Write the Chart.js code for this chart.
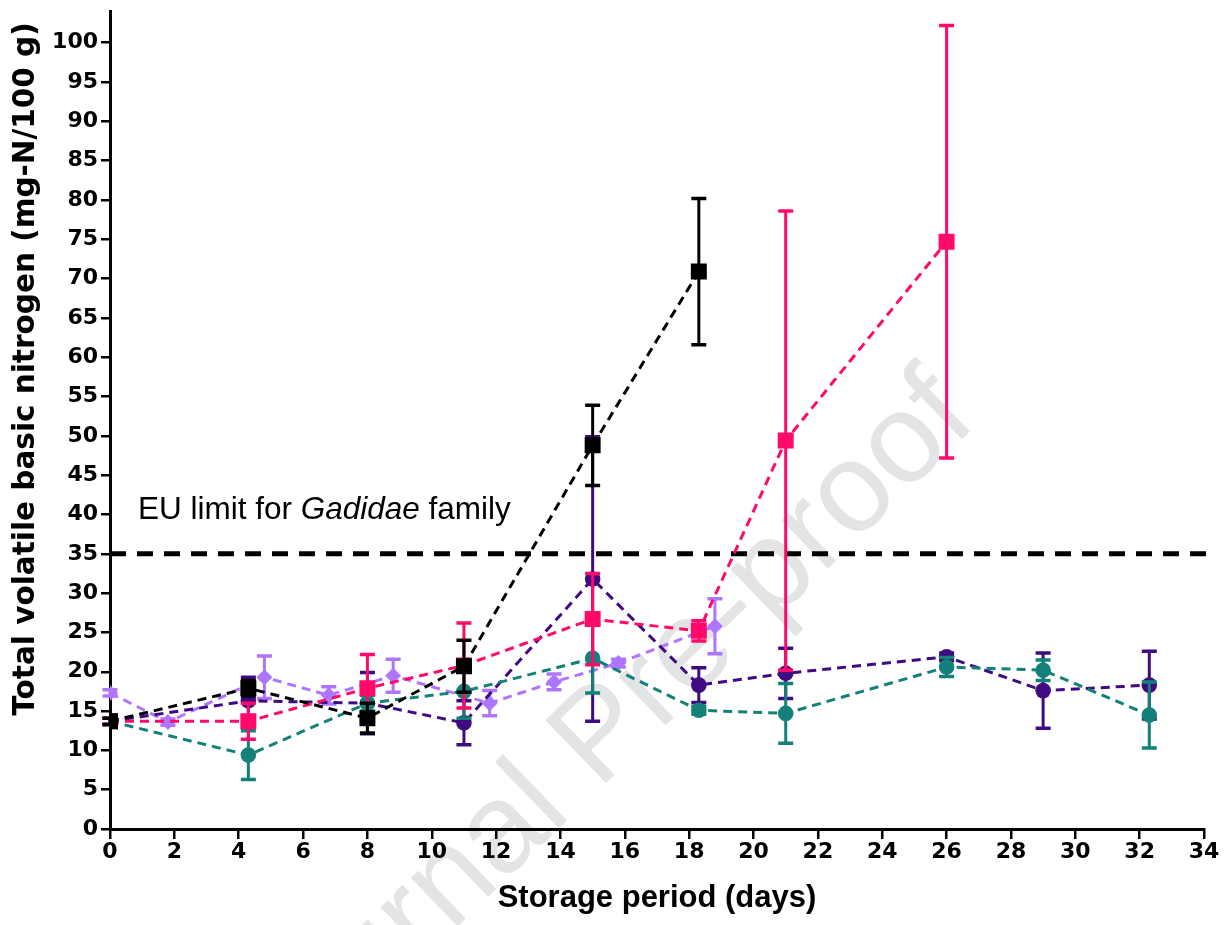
<!DOCTYPE html>
<html lang="en">
<head>
<meta charset="utf-8">
<title>TVB-N over storage</title>
<script src="https://cdn.jsdelivr.net/npm/chart.js"></script>
<style>
  html, body { margin: 0; padding: 0; background: #fff; }
  canvas { display: block; }
</style>
</head>
<body>
<canvas id="tvbnChart" width="1231" height="925"></canvas>
<script>
// sampling days (days 0..32.3) and the offset days used for the lavender series
const days = [0, 4.3, 8, 11, 15, 18.3, 21, 26, 29, 32.3];
const daysLav = [0, 1.8, 4.8, 6.8, 8.8, 11.8, 13.8, 15.8, 18.8];

// mean TVB-N values (mg-N/100 g) and their error bars
const blackVals = [13.7, 17.9, 14.1, 20.7, 48.8, 70.9];
const blackErr = [0.4, 1.0, 1.9, 3.3, 5.1, 9.3];
const pinkVals = [13.7, 13.7, 17.9, 20.8, 26.7, 25.2, 49.4, 74.7];
const pinkErr = [0.4, 2.3, 4.3, 5.4, 5.8, 1.3, 29.2, 27.5];
const tealVals = [13.7, 9.4, 16.0, 17.5, 21.7, 15.1, 14.7, 20.6, 20.2, 14.5];
const tealErr = [0.4, 3.1, 1.0, 3.4, 4.4, 0.5, 3.8, 1.2, 1.3, 4.2];
const indigoVals = [13.7, 16.3, 16.0, 13.5, 31.8, 18.3, 19.8, 21.9, 17.6, 18.3];
const indigoErr = [0.4, 3.0, 3.9, 2.8, 18.1, 2.2, 3.2, 0.5, 4.8, 4.3];
const lavVals = [17.3, 13.6, 19.3, 17.0, 19.5, 16.0, 18.7, 21.1, 25.8];
const lavErr = [0.4, 0.4, 2.7, 1.1, 2.1, 1.6, 1.0, 0.5, 3.5];

const euLimit = 35;
const yTicks = [0, 5, 10, 15, 20, 25, 30, 35, 40, 45, 50, 55, 60, 65, 70, 75, 80, 85, 90, 95, 100];

function pts(xs, ys) {
    return ys.map((v, i) => ({ x: xs[i], y: v }));
}

function series(label, xs, ys, err, color, style, radius) {
    return {
        label: label,
        data: pts(xs, ys),
        err: err,
        borderColor: color,
        backgroundColor: color,
        borderWidth: 3,
        borderDash: [9, 6],
        pointStyle: style,
        pointRadius: radius,
        pointBorderWidth: 0,
        fill: false,
        tension: 0
    };
}

// error bars drawn just before each dataset so its markers sit on top
const errorBars = {
    id: 'errorBars',
    beforeDatasetDraw(chart, args) {
        const ds = chart.data.datasets[args.index];
        if (!ds.err) return;
        const ctx = chart.ctx, x = chart.scales.x, y = chart.scales.y;
        ctx.save();
        ctx.strokeStyle = ds.borderColor;
        ds.data.forEach((p, i) => {
            const px = x.getPixelForValue(p.x);
            const top = y.getPixelForValue(p.y + ds.err[i]);
            const bot = y.getPixelForValue(p.y - ds.err[i]);
            ctx.lineWidth = 3;
            ctx.beginPath();
            ctx.moveTo(px, top); ctx.lineTo(px, bot);
            ctx.stroke();
            ctx.lineWidth = 3.5;
            ctx.beginPath();
            ctx.moveTo(px - 7.5, top); ctx.lineTo(px + 7.5, top);
            ctx.moveTo(px - 7.5, bot); ctx.lineTo(px + 7.5, bot);
            ctx.stroke();
        });
        ctx.restore();
    }
};

const watermark = {
    id: 'watermark',
    beforeDraw(chart) {
        const ctx = chart.ctx;
        ctx.save();
        ctx.translate(602, 738);
        ctx.rotate(-44 * Math.PI / 180);
        ctx.font = '127px "Liberation Sans", Arial, sans-serif';
        ctx.fillStyle = '#e3e4e6';
        ctx.textAlign = 'center';
        ctx.textBaseline = 'middle';
        ctx.fillText('Journal Pre-proof', 0, 0);
        ctx.restore();
    }
};

const labels = {
    id: 'labels',
    afterDraw(chart) {
        const ctx = chart.ctx, x = chart.scales.x, y = chart.scales.y;
        ctx.save();
        ctx.fillStyle = '#000';
        // EU limit note
        ctx.textBaseline = 'alphabetic';
        ctx.textAlign = 'left';
        let tx = x.getPixelForValue(0.87);
        const ty = y.getPixelForValue(39.4);
        const parts = [['EU limit for ', ''], ['Gadidae', 'italic '], [' family', '']];
        parts.forEach(([t, st]) => {
            ctx.font = st + '31.5px "Liberation Sans", Arial, sans-serif';
            ctx.fillText(t, tx, ty);
            tx += ctx.measureText(t).width;
        });
        // y axis title
        ctx.translate(26, 369);
        ctx.rotate(-Math.PI / 2);
        ctx.font = 'bold 29.5px "DejaVu Sans", sans-serif';
        ctx.textAlign = 'center';
        ctx.textBaseline = 'middle';
        ctx.fillText('Total volatile basic nitrogen (mg-N/100 g)', 0, 0);
        ctx.restore();
    }
};

const tickFont = { family: '"DejaVu Sans", sans-serif', weight: 'bold', size: 22 };

new Chart(document.getElementById('tvbnChart').getContext('2d'), {
    type: 'line',
    data: {
        datasets: [
            series('Black', days, blackVals, blackErr, '#000000', 'rect', 11.3),
            series('Pink', days, pinkVals, pinkErr, '#ff0a6a', 'rect', 11.3),
            {
                label: 'EU limit',
                data: [{ x: 0, y: euLimit }, { x: 34.2, y: euLimit }],
                borderColor: '#000',
                borderWidth: 5,
                borderDash: [16, 11],
                pointRadius: 0,
                clip: false
            },
            series('Teal', days, tealVals, tealErr, '#13807a', 'circle', 7.8),
            series('Indigo', days, indigoVals, indigoErr, '#3f0a82', 'circle', 7.8),
            series('Lavender', daysLav, lavVals, lavErr, '#ae76ff', 'rectRot', 8)
        ]
    },
    options: {
        responsive: false,
        animation: false,
        layout: { padding: { left: 0, right: 27, top: 10, bottom: 0 } },
        plugins: { legend: { display: false }, tooltip: { enabled: false } },
        scales: {
            x: {
                type: 'linear',
                min: 0,
                max: 34,
                ticks: { stepSize: 2, font: tickFont, color: '#000', padding: 0, maxRotation: 0, autoSkip: false },
                grid: { drawOnChartArea: false, drawTicks: true, tickLength: 10, color: '#000', lineWidth: 2.5 },
                border: { display: true, color: '#000', width: 3 },
                title: {
                    display: true,
                    text: 'Storage period (days)',
                    color: '#000',
                    font: { family: '"Liberation Sans", Arial, sans-serif', weight: 'bold', size: 31 },
                    padding: { top: 2, bottom: 8 }
                },
                afterFit(s) { s.height = 96; }
            },
            y: {
                type: 'linear',
                min: 0,
                max: 104,
                afterBuildTicks(s) { s.ticks = yTicks.map(v => ({ value: v })); },
                ticks: { font: tickFont, color: '#000', padding: 3, autoSkip: false },
                grid: { drawOnChartArea: false, drawTicks: true, tickLength: 9, color: '#000', lineWidth: 2.5 },
                border: { display: true, color: '#000', width: 3 },
                afterFit(s) { s.width = 110; s.paddingTop = 0; }
            }
        }
    },
    plugins: [watermark, errorBars, labels]
});
</script>
</body>
</html>
